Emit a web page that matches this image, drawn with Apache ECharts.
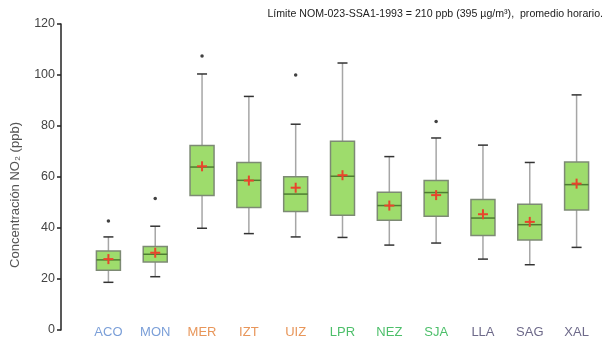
<!DOCTYPE html>
<html>
<head>
<meta charset="utf-8">
<script src="https://cdn.jsdelivr.net/npm/echarts@6/dist/echarts.min.js"></script>
<style>html,body{margin:0;padding:0;background:#fff}#c{width:612px;height:345px}</style>
</head>
<body>
<div id="c"></div>
<script>
const categories = ['ACO','MON','MER','IZT','UIZ','LPR','NEZ','SJA','LLA','SAG','XAL'];
const labelColors = ['#7b9fd8','#7b9fd8','#e8965a','#e8965a','#e8965a','#4dbf6a','#4dbf6a','#4dbf6a','#6e6a8a','#6e6a8a','#6e6a8a'];
const whiskerLow  = [18.7, 20.9, 39.9, 37.8, 36.5, 36.3, 33.3, 34.1, 27.8, 25.6, 32.4];
const q1          = [23.4, 26.7, 52.7, 48.0, 46.5, 45.0, 43.0, 44.6, 37.1, 35.3, 47.1];
const median      = [27.5, 29.7, 63.9, 58.7, 53.3, 60.3, 48.8, 53.9, 43.9, 41.3, 57.0];
const q3          = [31.0, 32.7, 72.4, 65.7, 60.1, 74.0, 54.0, 58.6, 51.2, 49.3, 65.9];
const whiskerHigh = [36.5, 40.7, 100.4, 91.6, 80.7, 104.7, 68.0, 75.3, 72.5, 65.7, 92.2];
const mean        = [27.8, 30.3, 64.2, 58.6, 55.8, 60.7, 48.8, 52.9, 45.4, 42.4, 57.4];
const outlierCat  = ['ACO','MON','MER','UIZ','SJA'];
const outlierVal  = [42.7, 51.6, 107.5, 100.0, 81.8];
const yTicks = [0, 20, 40, 60, 80, 100, 120];

const boxData = categories.map((c, i) => [i, whiskerLow[i], q1[i], median[i], q3[i], whiskerHigh[i], mean[i]]);
const outlierData = outlierCat.map((c, i) => [categories.indexOf(c), outlierVal[i]]);

const chart = echarts.init(document.getElementById('c'));
const BOX_W = 24, CAP_W = 10, PLUS = 5;

function renderBox(params, api) {
  const idx = api.value(0);
  const pLow = api.coord([idx, api.value(1)]);
  const pQ1 = api.coord([idx, api.value(2)]);
  const pMed = api.coord([idx, api.value(3)]);
  const pQ3 = api.coord([idx, api.value(4)]);
  const pHigh = api.coord([idx, api.value(5)]);
  const pMean = api.coord([idx, api.value(6)]);
  const x = pMed[0];
  const whiskerStyle = { stroke: '#a6a6a6', lineWidth: 1.5 };
  const capStyle = { stroke: '#333', lineWidth: 1.5 };
  return {
    type: 'group',
    children: [
      { type: 'line', shape: { x1: x, y1: pLow[1], x2: x, y2: pQ1[1] }, style: whiskerStyle },
      { type: 'line', shape: { x1: x, y1: pQ3[1], x2: x, y2: pHigh[1] }, style: whiskerStyle },
      { type: 'line', shape: { x1: x - CAP_W / 2, y1: pLow[1], x2: x + CAP_W / 2, y2: pLow[1] }, style: capStyle },
      { type: 'line', shape: { x1: x - CAP_W / 2, y1: pHigh[1], x2: x + CAP_W / 2, y2: pHigh[1] }, style: capStyle },
      { type: 'rect', shape: { x: x - BOX_W / 2, y: pQ3[1], width: BOX_W, height: pQ1[1] - pQ3[1] },
        style: { fill: '#9edc6c', stroke: '#7d8a74', lineWidth: 1.5 } },
      { type: 'line', shape: { x1: x - BOX_W / 2, y1: pMed[1], x2: x + BOX_W / 2, y2: pMed[1] },
        style: { stroke: '#4e7d32', lineWidth: 1.5 } },
      { type: 'line', shape: { x1: pMean[0] - PLUS, y1: pMean[1], x2: pMean[0] + PLUS, y2: pMean[1] },
        style: { stroke: '#e8452c', lineWidth: 2 } },
      { type: 'line', shape: { x1: pMean[0], y1: pMean[1] - PLUS, x2: pMean[0], y2: pMean[1] + PLUS },
        style: { stroke: '#e8452c', lineWidth: 2 } }
    ]
  };
}

chart.setOption({
  animation: false,
  textStyle: { fontFamily: 'Liberation Sans, Arial, sans-serif' },
  title: {
    text: 'Límite NOM-023-SSA1-1993 = 210 ppb (395 µg/m³),  promedio horario.',
    right: 4, top: 4,
    textStyle: { fontSize: 10.6, fontWeight: 'normal', color: '#222' }
  },
  grid: { left: 85, right: 12, top: 24, bottom: 15 },
  xAxis: {
    type: 'category',
    data: categories,
    boundaryGap: true,
    axisLine: { show: false },
    axisTick: { show: false },
    splitLine: { show: false },
    axisLabel: {
      margin: 2,
      verticalAlign: 'middle',
      fontSize: 13,
      color: (v, i) => labelColors[i]
    }
  },
  yAxis: {
    type: 'value',
    min: yTicks[0], max: yTicks[yTicks.length - 1], interval: 20,
    offset: 24,
    name: 'Concentración NO₂ (ppb)',
    nameLocation: 'middle',
    nameGap: 39,
    nameTextStyle: { fontSize: 13, color: '#555', padding: [0, 36, 0, 0] },
    axisLine: { show: true, lineStyle: { color: '#222', width: 1.5 } },
    axisTick: { show: true, length: 4, lineStyle: { color: '#222', width: 1.5 } },
    splitLine: { show: false },
    axisLabel: { fontSize: 12.5, color: '#444', margin: 6 }
  },
  series: [
    {
      type: 'custom',
      renderItem: renderBox,
      data: boxData,
      encode: { x: 0, y: [1, 2, 3, 4, 5, 6] },
      z: 2
    },
    {
      type: 'scatter',
      data: outlierData,
      symbol: 'circle',
      symbolSize: 3.5,
      itemStyle: { color: '#111' },
      z: 3
    }
  ]
});
</script>
</body>
</html>
